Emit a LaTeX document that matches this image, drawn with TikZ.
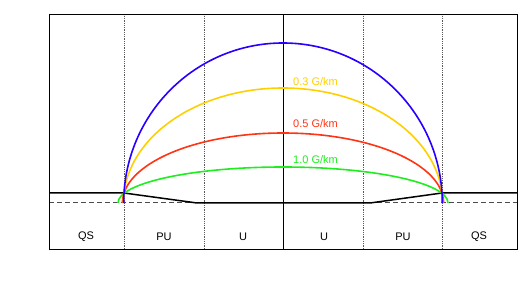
\documentclass[tikz,border=0pt]{standalone}
\usepackage{fontspec}
\setmainfont{Liberation Sans}
\begin{document}
\begin{tikzpicture}[x=1pt,y=1pt,
  lbl/.style={font=\fontsize{11}{13}\selectfont, inner sep=0pt},
  fieldline/.style={line width=1.6pt},
  divider/.style={gray!70!black, densely dotted, line width=0.8pt},
  surface/.style={black, line width=1.5pt},
  baseline/.style={gray!60!black, dash pattern=on 5pt off 3pt, line width=1pt},
  frame/.style={black, line width=1pt}]
\definecolor{cblue}{RGB}{40,0,255}
\definecolor{cyellow}{RGB}{255,208,0}
\definecolor{cred}{RGB}{255,52,20}
\definecolor{cgreen}{RGB}{30,238,30}
\useasboundingbox (0,0) rectangle (532,281);
% coordinates
\coordinate (fl) at (49,32);
\coordinate (fr) at (517,266);
% baseline
\draw[baseline] (49,78) -- (517,78);
% dividers
\foreach \x in {124,204,363,442} \draw[divider] (\x,32) -- (\x,266);
\draw[black, line width=0.8pt] (283,32) -- (283,266);
% surface
\draw[surface] (49,88) -- (124,88) -- (197,78) -- (370,78) -- (442,88) -- (517,88);
% field lines
\draw[fieldline, cgreen] (118,78) arc[start angle=180, end angle=0, x radius=165, y radius=36];
\draw[fieldline, cred] (122.4,78) arc[start angle=180, end angle=0, x radius=160.6, y radius=70];
\draw[fieldline, cyellow] (123.4,78) arc[start angle=180, end angle=0, x radius=159.6, y radius=115];
\draw[fieldline, cblue] (123.7,78) arc[start angle=180, end angle=0, x radius=159.3, y radius=160];
% frame
\draw[frame] (fl) rectangle (fr);
% labels
\node[lbl, anchor=west, text=cyellow] (l03) at (293,199) {0.3 G/km};
\node[lbl, anchor=west, text=cred] (l05) at (293,157.5) {0.5 G/km};
\node[lbl, anchor=west, text=cgreen] (l10) at (293,121.5) {1.0 G/km};
\node[lbl] (qs1) at (86,44.5) {QS};
\node[lbl] (pu1) at (164,44.5) {PU};
\node[lbl] (u1) at (243,44.5) {U};
\node[lbl] (u2) at (324,44.5) {U};
\node[lbl] (pu2) at (403,44.5) {PU};
\node[lbl] (qs2) at (479,44.5) {QS};
\end{tikzpicture}
\end{document}
